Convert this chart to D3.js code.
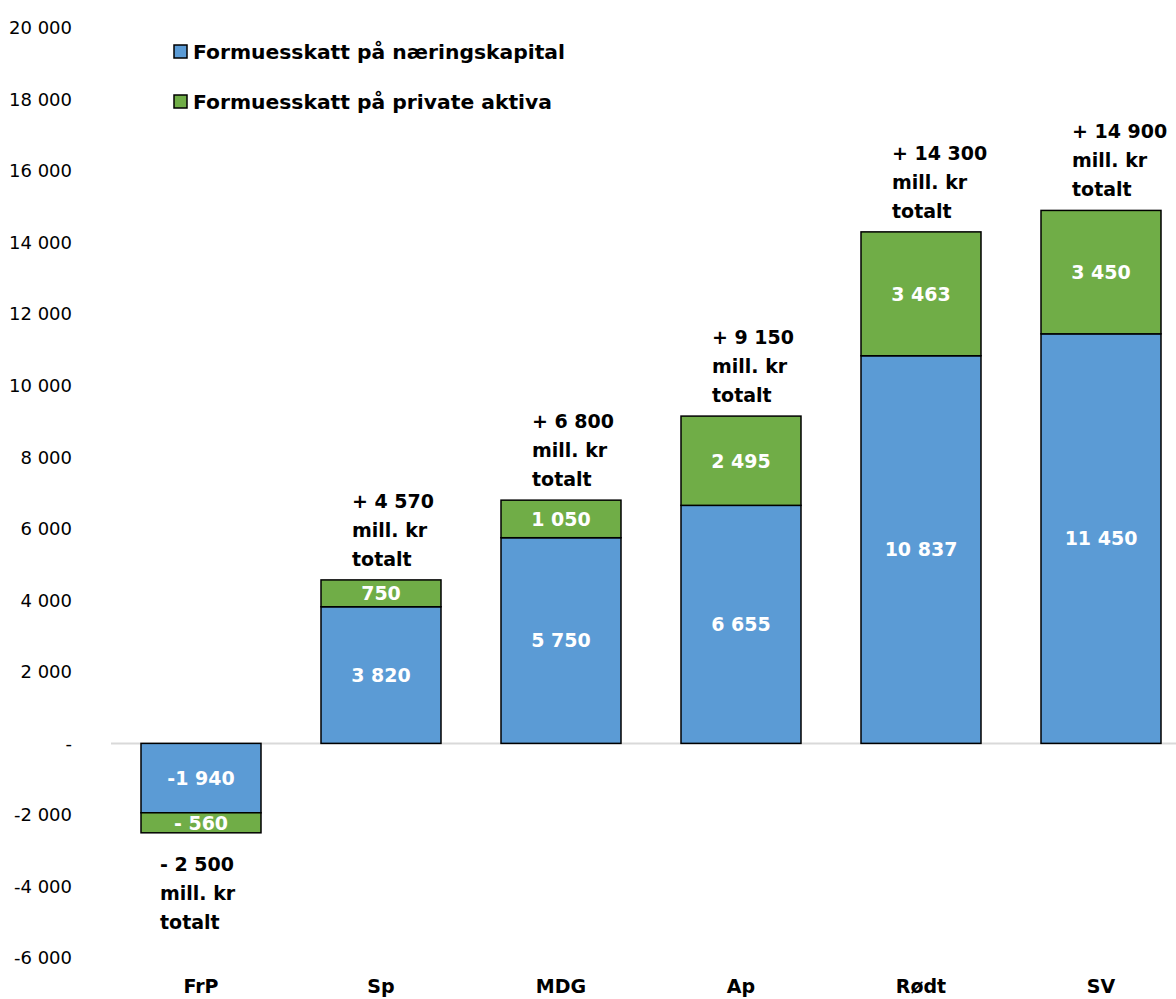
<!DOCTYPE html>
<html><head><meta charset="utf-8">
<script src="https://cdn.jsdelivr.net/npm/d3@7"></script>
<style>
html,body{margin:0;padding:0;background:#fff;}
svg{display:block;font-family:"DejaVu Sans",sans-serif;}
</style></head>
<body>
<svg id="chart" width="1176" height="999"></svg>
<script>
const categories = ["FrP","Sp","MDG","Ap","Rødt","SV"];
const naeringskapital = [-1940, 3820, 5750, 6655, 10837, 11450];
const privateAktiva = [-560, 750, 1050, 2495, 3463, 3450];
const totals = [-2500, 4570, 6800, 9150, 14300, 14900];
const yTicks = [-6000,-4000,-2000,0,2000,4000,6000,8000,10000,12000,14000,16000,18000,20000];
const seriesNames = ["Formuesskatt på næringskapital","Formuesskatt på private aktiva"];
const colors = ["#5B9BD5","#70AD47"];

const svg = d3.select("#chart");
const x = d3.scaleBand().domain(categories).range([111,1191]).paddingInner(1/3).paddingOuter(1/6);
const y = d3.scaleLinear().domain([-6000,20000]).range([958,28]);

const fmtNum = v => {
  const a = Math.abs(v);
  const s = d3.format(",")(a).replace(/,/g," ");
  if (v < 0) return "-" + (a < 1000 ? " " : "") + s;
  return s;
};

// y tick labels
svg.append("g").selectAll("text").data(yTicks).join("text")
  .attr("x",72).attr("y",d=>y(d)).attr("dy","0.35em")
  .attr("text-anchor","end").attr("font-size",18).attr("fill","#000")
  .text(d => d===0 ? "-" : fmtNum(d));

// zero line
svg.append("line").attr("x1",111).attr("x2",1176).attr("y1",y(0)).attr("y2",y(0))
  .attr("stroke","#d9d9d9").attr("stroke-width",2);

// stacked segments
const segs = [];
categories.forEach((c,i)=>{
  const a = naeringskapital[i], b = privateAktiva[i];
  segs.push({c, s:0, y0:0, y1:a, v:a});
  segs.push({c, s:1, y0:a, y1:a+b, v:b});
});
const g = svg.append("g");
g.selectAll("rect").data(segs).join("rect")
  .attr("x",d=>x(d.c)).attr("width",x.bandwidth())
  .attr("y",d=>Math.min(y(d.y0),y(d.y1)))
  .attr("height",d=>Math.abs(y(d.y0)-y(d.y1)))
  .attr("fill",d=>colors[d.s]).attr("stroke","#000").attr("stroke-width",1.5);

g.selectAll("text.val").data(segs).join("text").attr("class","val")
  .attr("x",d=>x(d.c)+x.bandwidth()/2)
  .attr("y",d=>(y(d.y0)+y(d.y1))/2).attr("dy","0.36em")
  .attr("text-anchor","middle").attr("font-size",19).attr("font-weight","bold")
  .attr("fill","#fff").text(d=>fmtNum(d.v));

// total labels
categories.forEach((c,i)=>{
  const t = totals[i];
  const lines = [(t<0?"- ":"+ ")+fmtNum(Math.abs(t)), "mill. kr", "totalt"];
  const pos = t>=0;
  const x0 = x(c) + (pos ? 31 : 19);
  const base = pos ? y(t) - 14 - 2*29 : y(t) + 38;
  const tx = svg.append("text").attr("font-size",19).attr("font-weight","bold").attr("fill","#000");
  lines.forEach((l,k)=>{
    tx.append("tspan").attr("x",x0).attr("y",base+k*29).text(l);
  });
});

// category labels
svg.append("g").selectAll("text").data(categories).join("text")
  .attr("x",d=>x(d)+x.bandwidth()/2).attr("y",993)
  .attr("text-anchor","middle").attr("font-size",19).attr("font-weight","bold")
  .text(d=>d);

// legend
const lg = svg.append("g").selectAll("g").data(seriesNames).join("g")
  .attr("transform",(d,i)=>`translate(174,${45+i*50})`);
lg.append("rect").attr("width",13).attr("height",13).attr("fill",(d,i)=>colors[i])
  .attr("stroke","#000").attr("stroke-width",1.5);
lg.append("text").attr("x",19).attr("y",7).attr("dy","0.36em")
  .attr("font-size",20.3).attr("font-weight","bold").text(d=>d);
</script>
</body></html>
